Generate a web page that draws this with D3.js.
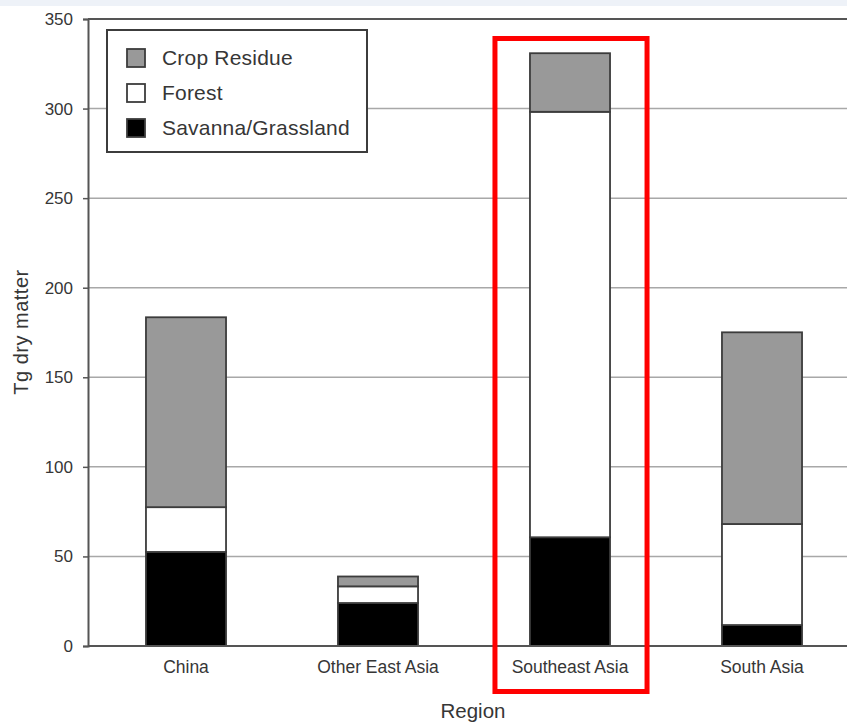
<!DOCTYPE html>
<html>
<head>
<meta charset="utf-8">
<script src="https://cdn.jsdelivr.net/npm/d3@7"></script>
<style>
  html, body { margin: 0; padding: 0; background: #ffffff; }
  svg { display: block; }
  text { font-family: "Liberation Sans", Arial, Helvetica, sans-serif; fill: #363636; }
</style>
</head>
<body>
<svg id="chart" width="847" height="723"></svg>
<script>
// Biomass burning by region (Tg dry matter), stacked by fuel type
const regions = ["China", "Other East Asia", "Southeast Asia", "South Asia"];
const savanna = [52.5, 24, 60.7, 11.7];
const forest = [25, 9.3, 237.5, 56.4];
const cropResidue = [106, 5.5, 32.7, 107];
const yTicks = [0, 50, 100, 150, 200, 250, 300, 350];

const keys = ["Savanna/Grassland", "Forest", "Crop Residue"];
const legendOrder = ["Crop Residue", "Forest", "Savanna/Grassland"];
const fills = { "Crop Residue": "#999999", "Forest": "#ffffff", "Savanna/Grassland": "#000000" };

const rows = regions.map((r, i) => ({
  region: r,
  "Savanna/Grassland": savanna[i],
  "Forest": forest[i],
  "Crop Residue": cropResidue[i]
}));

const svg = d3.select("#chart");
const W = 847, H = 723;
const plotLeft = 88, plotTop = 19, plotBottom = 646;

// pale strip along the top edge of the page
svg.append("rect").attr("x", 0).attr("y", 0).attr("width", W).attr("height", 6).attr("fill", "#eef2f8");

const x = d3.scaleBand().domain(regions).range([90, 858])
  .paddingInner(0.583).paddingOuter(0.2915);
const y = d3.scaleLinear().domain([0, 350]).range([plotBottom, plotTop]);

// horizontal gridlines
svg.append("g").selectAll("line").data(yTicks.filter(t => t > 0 && t < 350)).join("line")
  .attr("x1", plotLeft).attr("x2", W)
  .attr("y1", d => y(d)).attr("y2", d => y(d))
  .attr("stroke", "#a8a8a8").attr("stroke-width", 1.5);

// stacked bars
const series = d3.stack().keys(keys)(rows);
svg.append("g").selectAll("g").data(series).join("g")
  .attr("fill", d => fills[d.key])
  .selectAll("rect").data(d => d).join("rect")
  .attr("x", d => x(d.data.region))
  .attr("width", x.bandwidth())
  .attr("y", d => y(d[1]))
  .attr("height", d => y(d[0]) - y(d[1]))
  .attr("stroke", "#3c3c3c")
  .attr("stroke-width", 1.8);

// frame: top line, left axis, baseline
svg.append("line").attr("x1", plotLeft).attr("x2", W).attr("y1", y(350)).attr("y2", y(350))
  .attr("stroke", "#555").attr("stroke-width", 2);
svg.append("line").attr("x1", plotLeft).attr("x2", W).attr("y1", y(0)).attr("y2", y(0))
  .attr("stroke", "#555").attr("stroke-width", 2);

const yAxis = svg.append("g").attr("transform", `translate(${plotLeft},0)`)
  .call(d3.axisLeft(y).tickValues(yTicks).tickSize(5).tickPadding(10));
yAxis.select(".domain").attr("stroke", "#555").attr("stroke-width", 2);
yAxis.selectAll(".tick line").attr("stroke", "#555").attr("stroke-width", 1.5);
yAxis.selectAll(".tick text").attr("font-size", 17)
  .attr("font-family", "Liberation Sans, Arial, sans-serif").attr("fill", "#363636");

// category labels
svg.append("g").selectAll("text").data(regions).join("text")
  .attr("x", d => x(d) + x.bandwidth() / 2)
  .attr("y", 673)
  .attr("text-anchor", "middle")
  .attr("font-size", 17.5)
  .text(d => d);

// axis titles
svg.append("text").attr("x", 473).attr("y", 718).attr("text-anchor", "middle")
  .attr("font-size", 20.5).text("Region");
svg.append("text").attr("transform", `translate(28,332) rotate(-90)`)
  .attr("text-anchor", "middle").attr("font-size", 20).attr("letter-spacing", 0.5)
  .text("Tg dry matter");

// legend
const lg = svg.append("g");
lg.append("rect").attr("x", 107).attr("y", 30).attr("width", 260).attr("height", 122)
  .attr("fill", "#fff").attr("stroke", "#3c3c3c").attr("stroke-width", 2);
legendOrder.forEach((k, i) => {
  const yy = 49 + i * 35;
  lg.append("rect").attr("x", 127).attr("y", yy).attr("width", 18).attr("height", 18)
    .attr("fill", fills[k]).attr("stroke", "#3c3c3c").attr("stroke-width", 1.8);
  lg.append("text").attr("x", 162).attr("y", yy + 16).attr("font-size", 21)
    .attr("letter-spacing", 0.2).text(k);
});

// highlight frame around Southeast Asia
svg.append("rect")
  .attr("x", x("Southeast Asia") - 35).attr("y", 38.5)
  .attr("width", x.bandwidth() + 72).attr("height", 653)
  .attr("fill", "none").attr("stroke", "#ff0000").attr("stroke-width", 5);
</script>
</body>
</html>
